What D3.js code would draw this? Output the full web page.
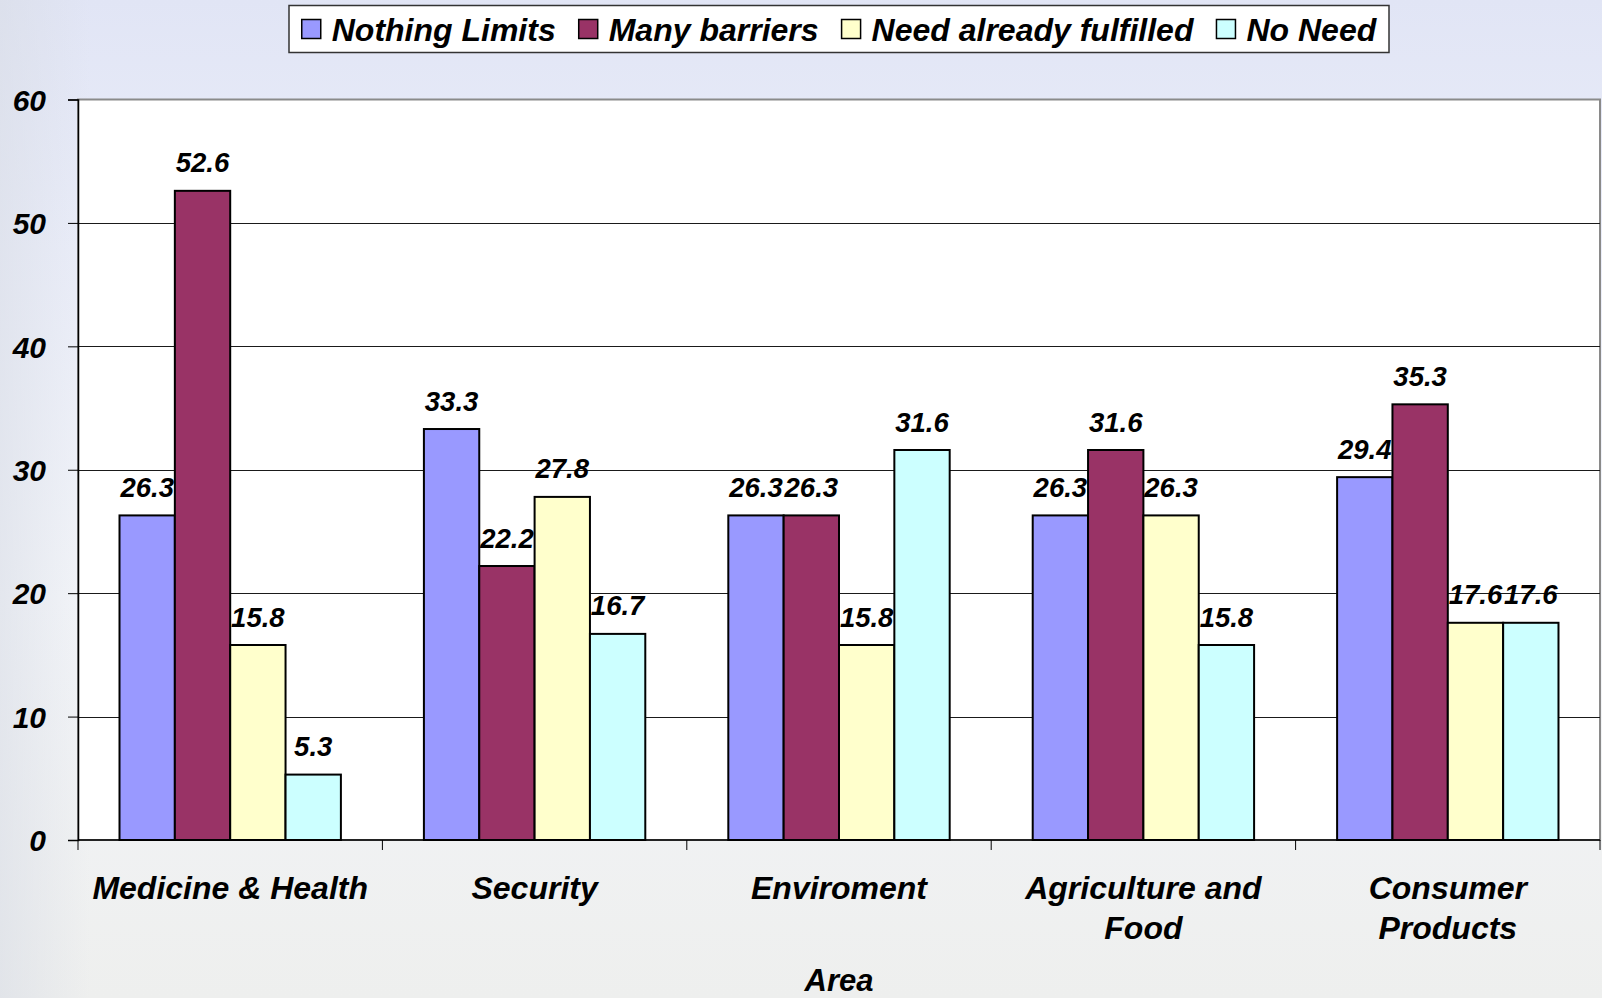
<!DOCTYPE html>
<html>
<head>
<meta charset="utf-8">
<script src="https://cdn.jsdelivr.net/npm/d3@7"></script>
<style>
  html, body { margin: 0; padding: 0; background: #ffffff; }
  svg { display: block; }
  text { font-family: "Liberation Sans", Arial, sans-serif; font-weight: bold; font-style: italic; fill: #000; }
</style>
</head>
<body>
<svg id="chart" width="1602" height="998"></svg>
<script>
// Survey shares (%) by application area
const categories = ["Medicine & Health", "Security", "Enviroment", "Agriculture and Food", "Consumer Products"];
const seriesNames = ["Nothing Limits", "Many barriers", "Need already fulfilled", "No Need"];
const nothingLimits = [26.3, 33.3, 26.3, 26.3, 29.4];
const manyBarriers  = [52.6, 22.2, 26.3, 31.6, 35.3];
const needFulfilled = [15.8, 27.8, 15.8, 26.3, 17.6];
const noNeed        = [5.3, 16.7, 31.6, 15.8, 17.6];
const yTicks = [0, 10, 20, 30, 40, 50, 60];
const axisTitle = "Area";

const seriesValues = [nothingLimits, manyBarriers, needFulfilled, noNeed];
const colors = ["#9999FF", "#993366", "#FFFFCC", "#CCFFFF"];

const W = 1602, H = 998;
const plot = { left: 78, right: 1600, top: 99.5, bottom: 840 };

const svg = d3.select("#chart");
const defs = svg.append("defs");

// slide-style background wash
const bg = defs.append("linearGradient").attr("id", "bgGrad")
  .attr("x1", 0).attr("y1", 0).attr("x2", 0).attr("y2", 1);
bg.append("stop").attr("offset", "0%").attr("stop-color", "#e1e5f5");
bg.append("stop").attr("offset", "25%").attr("stop-color", "#eaedf9");
bg.append("stop").attr("offset", "60%").attr("stop-color", "#f3f5f9");
bg.append("stop").attr("offset", "100%").attr("stop-color", "#eeefee");
const side = defs.append("linearGradient").attr("id", "sideGrad")
  .attr("x1", 0).attr("y1", 0).attr("x2", 1).attr("y2", 0);
side.append("stop").attr("offset", "0%").attr("stop-color", "#d9dde6").attr("stop-opacity", 0.6);
side.append("stop").attr("offset", "100%").attr("stop-color", "#d9dde6").attr("stop-opacity", 0);

svg.append("rect").attr("width", W).attr("height", H).attr("fill", "url(#bgGrad)");
svg.append("rect").attr("width", 90).attr("height", H).attr("fill", "url(#sideGrad)");

// scales
const x0 = d3.scaleBand().domain(categories).range([plot.left, plot.right]).paddingInner(0).paddingOuter(0);
const x1 = d3.scaleBand().domain(seriesNames).range([0, x0.bandwidth()]).paddingInner(0).paddingOuter(0.75);
const y = d3.scaleLinear().domain([0, 60]).range([plot.bottom, plot.top]);

// plot area
svg.append("rect")
  .attr("x", plot.left).attr("y", plot.top)
  .attr("width", plot.right - plot.left).attr("height", plot.bottom - plot.top)
  .attr("fill", "#ffffff").attr("stroke", "#8a8a8a").attr("stroke-width", 2);

// gridlines
svg.append("g").selectAll("line")
  .data(yTicks.filter(t => t > 0 && t < 60))
  .join("line")
  .attr("x1", plot.left).attr("x2", plot.right)
  .attr("y1", d => Math.round(y(d)) + 0.5).attr("y2", d => Math.round(y(d)) + 0.5)
  .attr("stroke", "#1a1a1a").attr("stroke-width", 1);

// bars
const groups = svg.append("g").selectAll("g")
  .data(categories)
  .join("g")
  .attr("transform", d => `translate(${x0(d)},0)`);

groups.selectAll("rect")
  .data((c, i) => seriesNames.map((s, k) => ({ s, v: seriesValues[k][i], k })))
  .join("rect")
  .attr("x", d => x1(d.s))
  .attr("y", d => y(d.v))
  .attr("width", x1.bandwidth())
  .attr("height", d => y(0) - y(d.v))
  .attr("fill", d => colors[d.k])
  .attr("stroke", "#000").attr("stroke-width", 2);

groups.selectAll("text")
  .data((c, i) => seriesNames.map((s, k) => ({ s, v: seriesValues[k][i], k })))
  .join("text")
  .attr("x", d => x1(d.s) + x1.bandwidth() / 2)
  .attr("y", d => y(d.v) - 18.5)
  .attr("text-anchor", "middle")
  .attr("font-size", 27.5)
  .text(d => d.v.toFixed(1));

// y axis
const yAxis = svg.append("g")
  .attr("transform", `translate(${plot.left},0)`)
  .call(d3.axisLeft(y).tickValues(yTicks).tickSize(10).tickPadding(22).tickFormat(d3.format("d")));
yAxis.select(".domain").attr("stroke", "#000").attr("stroke-width", 1.5);
yAxis.selectAll(".tick line").attr("stroke", "#000").attr("stroke-width", 1);
yAxis.selectAll(".tick text")
  .attr("font-family", null).attr("font-size", 30).attr("dy", "0.36em");

// x axis line and category boundary ticks
svg.append("line")
  .attr("x1", plot.left).attr("x2", plot.right)
  .attr("y1", plot.bottom).attr("y2", plot.bottom)
  .attr("stroke", "#000").attr("stroke-width", 1.5);
const bounds = categories.map(c => x0(c)).concat([plot.right]);
svg.append("g").selectAll("line")
  .data(bounds)
  .join("line")
  .attr("x1", d => d).attr("x2", d => d)
  .attr("y1", plot.bottom).attr("y2", plot.bottom + 10)
  .attr("stroke", "#000").attr("stroke-width", 1);

// category labels, wrapped to the band width
const maxLine = 292;
const catLabels = svg.append("g").selectAll("text")
  .data(categories)
  .join("text")
  .attr("text-anchor", "middle")
  .attr("font-size", 32)
  .attr("x", d => x0(d) + x0.bandwidth() / 2)
  .attr("y", 899);
catLabels.each(function (d) {
  const t = d3.select(this);
  const words = d.split(" ");
  const lines = [];
  let cur = [];
  const probe = t.append("tspan");
  words.forEach(w => {
    const trial = cur.concat([w]).join(" ");
    probe.text(trial);
    if (probe.node().getComputedTextLength() > maxLine && cur.length) {
      lines.push(cur.join(" "));
      cur = [w];
    } else {
      cur.push(w);
    }
  });
  lines.push(cur.join(" "));
  probe.remove();
  lines.forEach((ln, i) => {
    t.append("tspan").attr("x", x0(d) + x0.bandwidth() / 2).attr("dy", i === 0 ? 0 : 40).text(ln);
  });
});

// axis title
svg.append("text")
  .attr("x", (plot.left + plot.right) / 2)
  .attr("y", 991)
  .attr("text-anchor", "middle")
  .attr("font-size", 31)
  .text(axisTitle);

// legend
const legendBox = { x: 289, y: 5.5, w: 1100, h: 47 };
const legend = svg.append("g");
legend.append("rect")
  .attr("x", legendBox.x).attr("y", legendBox.y)
  .attr("width", legendBox.w).attr("height", legendBox.h)
  .attr("fill", "#ffffff").attr("stroke", "#333").attr("stroke-width", 1.5);

const legendFont = 32, sq = 19, sqGap = 11, itemGap = 23;
const items = legend.selectAll("g.item").data(seriesNames).join("g").attr("class", "item");
items.append("rect")
  .attr("width", sq).attr("height", sq)
  .attr("fill", (d, i) => colors[i])
  .attr("stroke", "#000").attr("stroke-width", 1.5);
items.append("text")
  .attr("x", sq + sqGap).attr("y", sq / 2).attr("dy", "0.36em")
  .attr("font-size", legendFont)
  .text(d => d);
let widths = [];
items.select("text").each(function () { widths.push(this.getComputedTextLength()); });
const total = d3.sum(widths) + seriesNames.length * (sq + sqGap) + (seriesNames.length - 1) * itemGap;
let cx = legendBox.x + (legendBox.w - total) / 2;
items.attr("transform", (d, i) => {
  const tx = cx;
  cx += sq + sqGap + widths[i] + itemGap;
  return `translate(${tx},${legendBox.y + legendBox.h / 2 - sq / 2})`;
});
</script>
</body>
</html>
